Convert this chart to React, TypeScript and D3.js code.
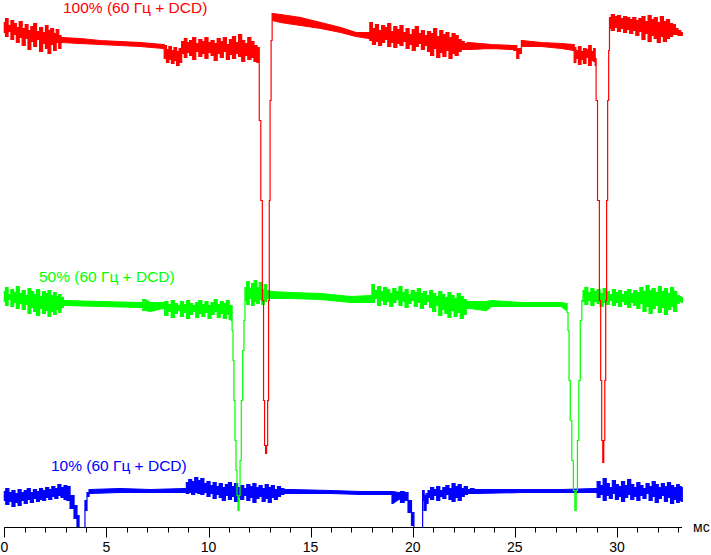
import React from 'react';
import * as d3 from 'd3';

// time in ms; levels in arbitrary units (0 = axis baseline); hi/lo = envelope of the noisy trace
const redT = [0, 0.12, 0.25, 0.4, 0.52, 0.66, 0.8, 0.95, 1.1, 1.22, 1.38, 1.5, 1.66, 1.8, 1.95, 2.08, 2.2, 2.35, 2.48, 2.6, 2.73, 2.82,
  3.71, 4.69, 5.67, 6.66, 7.78,
  7.88, 8.0, 8.12, 8.25, 8.37, 8.5, 8.62, 8.75, 8.88, 9.0, 9.15, 9.3, 9.45, 9.6, 9.75, 9.9, 10.05, 10.2, 10.35, 10.5, 10.65, 10.8, 10.95, 11.1, 11.25, 11.4, 11.55, 11.7, 11.85, 12.0, 12.15, 12.3, 12.45,
  12.52, 12.6, 12.67, 12.72, 12.77, 12.82, 12.87, 12.92, 12.96, 12.99, 13.04, 13.09,
  13.14, 13.53, 14.51, 15.5, 16.48, 17.22, 17.85,
  17.95, 18.1, 18.25, 18.4, 18.55, 18.7, 18.85, 19.0, 19.15, 19.3, 19.45, 19.6, 19.75, 19.9, 20.05, 20.2, 20.35, 20.5, 20.65, 20.8, 20.95, 21.1, 21.25, 21.4, 21.55, 21.7, 21.85, 22.0, 22.15, 22.3, 22.45, 22.6,
  22.75, 23.85, 24.83, 25.07, 25.12, 25.27, 25.37, 26.3, 27.28, 27.88,
  27.93, 28.05, 28.18, 28.3, 28.42, 28.55, 28.68, 28.8, 28.91, 28.96,
  29.0, 29.1, 29.18, 29.23, 29.28, 29.33, 29.38, 29.43, 29.47, 29.52, 29.57, 29.62,
  29.65, 29.8, 29.95, 30.1, 30.25, 30.4, 30.55, 30.7, 30.85, 31.0, 31.15, 31.3, 31.45, 31.6, 31.75, 31.9, 32.05, 32.2, 32.35, 32.5, 32.65, 32.8, 32.93, 33.05, 33.2];
const redHi = [505, 509, 502, 507, 504, 500, 506, 499, 503, 497, 501, 504, 496, 500, 495, 502, 497, 499, 494, 498, 492, 490,
  489, 487, 486, 485, 483,
  482, 478, 481, 477, 480, 476, 479, 486, 489, 485, 487, 490, 484, 488, 486, 490, 485, 487, 484, 489, 486, 490, 483, 488, 491, 485, 493, 487, 484, 490, 486, 482, 480,
  407, 327, 227, 127, 82, 74, 82, 127, 227, 327, 427, 487,
  514, 513, 510, 505, 500, 495, 495,
  505, 499, 503, 497, 502, 500, 504, 496, 501, 498, 502, 495, 499, 493, 498, 501, 494, 497, 492, 496, 494, 499, 491, 497, 493, 495, 490, 494, 492, 488, 486, 484,
  485, 483, 482, 482, 479, 479, 487, 485, 484, 483,
  480, 477, 481, 476, 479, 478, 482, 476, 479, 469,
  427, 327, 227, 147, 87, 65, 87, 147, 227, 327, 427, 477,
  510, 513, 511, 512, 509, 511, 510, 508, 510, 507, 509, 511, 506, 512, 508, 510, 505, 511, 506, 508, 504, 503, 499, 497, 495];
const redLo = [495, 491, 496, 488, 493, 485, 490, 482, 489, 478, 486, 481, 488, 476, 484, 479, 474, 483, 477, 485, 479, 485,
  484, 483, 482, 481, 479,
  469, 465, 468, 464, 467, 462, 465, 474, 470, 475, 472, 468, 476, 471, 474, 469, 475, 472, 467, 474, 470, 476, 468, 473, 469, 474, 471, 466, 472, 468, 470, 466, 465,
  407, 327, 227, 127, 82, 74, 82, 127, 227, 327, 427, 487,
  507, 505, 502, 499, 495, 491, 489,
  487, 483, 486, 482, 485, 488, 481, 485, 480, 484, 482, 486, 479, 483, 477, 481, 484, 478, 482, 476, 472, 479, 470, 475, 471, 477, 469, 474, 472, 476, 478, 478,
  478, 479, 478, 477, 469, 474, 481, 481, 479, 477,
  465, 469, 463, 468, 464, 470, 462, 467, 466, 462,
  427, 327, 227, 147, 87, 65, 87, 147, 227, 327, 427, 477,
  499, 497, 500, 496, 499, 495, 498, 494, 497, 492, 496, 488, 494, 486, 492, 489, 485, 491, 486, 489, 491, 493, 493, 492, 492];

const greenT = [0, 0.12, 0.25, 0.4, 0.52, 0.66, 0.8, 0.95, 1.1, 1.22, 1.38, 1.5, 1.66, 1.8, 1.95, 2.08, 2.2, 2.35, 2.48, 2.6, 2.73, 2.82,
  2.97, 4.69, 6.66, 6.9, 7.15, 7.78,
  7.93, 8.1, 8.25, 8.4, 8.55, 8.7, 8.85, 9.0, 9.15, 9.3, 9.45, 9.6, 9.75, 9.9, 10.05, 10.2, 10.35, 10.5, 10.65, 10.8, 10.95, 11.08, 11.13,
  11.18, 11.22, 11.27, 11.32, 11.37, 11.42, 11.47, 11.52, 11.57, 11.64, 11.71, 11.76,
  11.81, 11.93, 12.05, 12.17, 12.3, 12.42, 12.55, 12.67, 12.79, 12.9,
  13.1, 14.02, 15.5, 16.97, 17.95,
  18.05, 18.2, 18.35, 18.5, 18.65, 18.8, 18.95, 19.1, 19.25, 19.4, 19.55, 19.7, 19.85, 20.0, 20.15, 20.3, 20.45, 20.6, 20.75, 20.9, 21.05, 21.2, 21.35, 21.5, 21.65, 21.8, 21.95, 22.1, 22.25, 22.4, 22.55, 22.7,
  22.8, 23.6, 23.85, 25.32, 27.28, 27.53,
  27.58, 27.63, 27.68, 27.75, 27.83, 27.9, 27.98, 28.03, 28.1, 28.17, 28.24, 28.32,
  28.36, 28.5, 28.65, 28.8, 28.95, 29.1, 29.25, 29.4, 29.55, 29.7, 29.85, 30.0, 30.15, 30.3, 30.45, 30.6, 30.75, 30.9, 31.05, 31.2, 31.35, 31.5, 31.65, 31.8, 31.95, 32.1, 32.25, 32.4, 32.55, 32.7, 32.85, 33.0, 33.1, 33.2];
const greenHi = [236, 240, 233, 238, 235, 241, 234, 237, 232, 239, 236, 233, 238, 231, 236, 234, 237, 232, 235, 231, 233, 230,
  227, 226, 225, 228, 225, 225,
  226, 223, 227, 224, 222, 226, 223, 227, 224, 222, 225, 227, 223, 226, 222, 225, 228, 223, 226, 224, 227, 222, 222,
  197, 167, 127, 87, 57, 32, 17, 32, 67, 127, 177, 207,
  240, 246, 239, 244, 247, 240, 245, 238, 243, 237,
  236, 235, 234, 231, 232,
  243, 237, 241, 236, 240, 238, 234, 239, 236, 241, 235, 238, 233, 237, 235, 239, 234, 236, 232, 237, 234, 231, 236, 233, 230, 235, 232, 229, 234, 231, 228, 226,
  226, 226, 227, 225, 225, 224,
  215, 197, 147, 107, 67, 37, 17, 37, 87, 147, 207, 227,
  237, 240, 235, 239, 236, 238, 234, 239, 236, 233, 238, 235, 237, 233, 236, 238, 234, 237, 235, 240, 236, 242, 237, 239, 235, 241, 236, 239, 234, 240, 236, 232, 231, 230];
const greenLo = [226, 222, 228, 221, 225, 219, 224, 218, 223, 214, 220, 216, 212, 219, 214, 217, 211, 216, 213, 218, 215, 220,
  222, 221, 220, 217, 216, 219,
  212, 216, 210, 214, 217, 211, 215, 209, 213, 216, 210, 214, 211, 215, 209, 213, 216, 210, 214, 209, 213, 208, 207,
  197, 167, 127, 87, 57, 32, 17, 32, 67, 127, 177, 207,
  227, 223, 229, 222, 226, 224, 228, 223, 226, 229,
  229, 229, 228, 225, 225,
  225, 229, 222, 227, 223, 226, 221, 225, 228, 222, 226, 220, 224, 227, 221, 225, 219, 223, 226, 220, 216, 222, 212, 218, 214, 210, 217, 211, 215, 209, 213, 219,
  219, 217, 221, 221, 221, 217,
  215, 197, 147, 107, 67, 37, 17, 37, 87, 147, 207, 227,
  226, 223, 227, 222, 226, 224, 221, 225, 223, 227, 222, 225, 221, 226, 223, 220, 225, 222, 219, 224, 216, 221, 214, 219, 222, 215, 220, 213, 218, 221, 216, 224, 226, 225];

const blueT = [0, 0.15, 0.3, 0.45, 0.6, 0.75, 0.9, 1.05, 1.2, 1.35, 1.5, 1.65, 1.8, 1.95, 2.1, 2.25, 2.4, 2.55, 2.7, 2.85, 3.0, 3.12,
  3.32, 3.51, 3.61, 3.71, 3.9, 4.0, 4.1, 4.2,
  5.67, 7.15, 8.87,
  8.96, 9.1, 9.25, 9.4, 9.55, 9.7, 9.85, 10.0, 10.15, 10.3, 10.45, 10.6, 10.75, 10.9, 11.05, 11.2, 11.35, 11.5, 11.65, 11.8, 11.95, 12.1, 12.25, 12.4, 12.55, 12.7, 12.85, 13.0, 13.15, 13.3, 13.45, 13.6, 13.78,
  14.02, 15.99, 17.46, 18.94,
  19.03, 19.3, 19.5, 19.67, 19.87, 20.01, 20.11, 20.46, 20.51, 20.61, 20.7,
  20.8, 20.95, 21.1, 21.25, 21.4, 21.55, 21.7, 21.85, 22.0, 22.15, 22.3, 22.45, 22.6, 22.75, 22.9, 23.11,
  25.32, 27.28, 28.96,
  29.1, 29.25, 29.4, 29.55, 29.7, 29.85, 30.0, 30.15, 30.3, 30.45, 30.6, 30.75, 30.9, 31.05, 31.2, 31.35, 31.5, 31.65, 31.8, 31.95, 32.1, 32.25, 32.4, 32.55, 32.7, 32.85, 33.0, 33.1, 33.2];
const blueHi = [36, 39, 35, 37, 34, 38, 35, 37, 39, 35, 38, 36, 39, 37, 40, 38, 41, 39, 43, 40, 42, 41,
  32, 22, 12, 0, 0, 27, 35, 38,
  39, 38, 39,
  45, 48, 46, 50, 47, 49, 44, 46, 42, 45, 41, 44, 40, 43, 45, 41, 44, 40, 42, 39, 43, 41, 44, 40, 42, 39, 43, 40, 42, 38, 41, 39, 38,
  38, 37, 36, 36,
  36, 35, 36, 35, 27, 15, 0, 0, 37, 32, 34,
  37, 40, 38, 41, 37, 40, 42, 39, 44, 41, 43, 39, 41, 38, 39, 38,
  38, 38, 39,
  46, 42, 49, 44, 40, 47, 43, 41, 46, 42, 48, 43, 40, 45, 42, 39, 44, 41, 46, 43, 40, 44, 41, 45, 42, 40, 43, 41, 40];
const blueLo = [27, 23, 26, 21, 25, 22, 27, 24, 28, 25, 29, 26, 28, 27, 30, 28, 31, 29, 32, 30, 28, 27,
  19, 9, 0, 0, 0, 17, 31, 34,
  35, 35, 35,
  34, 35, 33, 35, 34, 33, 35, 31, 34, 29, 33, 30, 27, 32, 28, 31, 26, 30, 28, 32, 27, 30, 25, 29, 31, 26, 29, 25, 30, 28, 31, 33, 34,
  34, 34, 33, 33,
  24, 28, 25, 27, 15, 2, 0, 0, 27, 17, 24,
  30, 28, 32, 27, 31, 29, 33, 28, 26, 30, 27, 31, 33, 34, 34, 34,
  35, 35, 35,
  30, 33, 27, 32, 29, 34, 28, 31, 26, 30, 33, 28, 31, 27, 32, 29, 34, 27, 31, 25, 29, 32, 26, 30, 24, 28, 25, 27, 26];

const seriesLabels = ['10% (60 Гц + DCD)', '50% (60 Гц + DCD)', '100% (60 Гц + DCD)'];
const seriesColors = ['#0000ff', '#00ff00', '#ff0000'];
const majorTicks = [0, 5, 10, 15, 20, 25, 30];
const minorTicks = [0, 1, 2, 3, 4, 5, 6, 7, 8, 9, 10, 11, 12, 13, 14, 15, 16, 17, 18, 19, 20, 21, 22, 23, 24, 25, 26, 27, 28, 29, 30, 31, 32, 33];
const unitLabel = 'мс';

const W = 711;
const H = 555;
const axisY = 527.5;
const FONT = '"Liberation Sans", Arial, sans-serif';

type V = { t: number; lo: number; hi: number };

// Rendering helper: densely sampled stretches are drawn as steps (oscilloscope style),
// sparse stretches as straight segments.
function toVertices(t: number[], lo: number[], hi: number[]): V[] {
  const out: V[] = [];
  for (let i = 0; i < t.length; i++) {
    out.push({ t: t[i], lo: lo[i], hi: hi[i] });
    if (i < t.length - 1 && t[i + 1] - t[i] < 0.25) {
      const tm = (t[i] + t[i + 1]) / 2;
      out.push({ t: tm, lo: lo[i], hi: hi[i] });
      out.push({ t: tm, lo: lo[i + 1], hi: hi[i + 1] });
    }
  }
  return out;
}

export default function App() {
  const x = d3.scaleLinear().domain([0, 33]).range([4.3, 678.2]);
  const y = d3.scaleLinear().domain([0, 527]).range([axisY, 0.5]);

  const series = [
    { t: blueT, lo: blueLo, hi: blueHi },
    { t: greenT, lo: greenLo, hi: greenHi },
    { t: redT, lo: redLo, hi: redHi },
  ];
  const labelPos = [
    { x: 51, y: 471 },
    { x: 39, y: 282 },
    { x: 63, y: 13 },
  ];

  const area = d3
    .area<V>()
    .x((d) => x(d.t))
    .y0((d) => y(d.lo))
    .y1((d) => y(d.hi))
    .curve(d3.curveLinear);

  return (
    <svg width={W} height={H} style={{ position: 'absolute', left: 0, top: 0, background: '#fff' }}>
      <rect x={0} y={0} width={W} height={H} fill="#fff" />
      {series.map((s, k) => (
        <path
          key={k}
          d={area(toVertices(s.t, s.lo, s.hi)) || ''}
          fill={seriesColors[k]}
          stroke={seriesColors[k]}
          strokeWidth={1.2}
          strokeLinejoin="miter"
        />
      ))}
      {seriesLabels.map((lab, k) => (
        <text key={k} x={labelPos[k].x} y={labelPos[k].y} fill={seriesColors[k]} fontFamily={FONT} fontSize={15.5}>
          {lab}
        </text>
      ))}
      <line x1={x(0)} x2={682} y1={axisY} y2={axisY} stroke="#000" strokeWidth={1} />
      {minorTicks.map((t) => (
        <line
          key={'m' + t}
          x1={Math.round(x(t)) + 0.5}
          x2={Math.round(x(t)) + 0.5}
          y1={axisY}
          y2={axisY + (majorTicks.includes(t) ? 10 : 5)}
          stroke="#000"
          strokeWidth={1}
        />
      ))}
      {majorTicks.map((t) => (
        <text key={'l' + t} x={x(t)} y={551.5} textAnchor="middle" fontFamily={FONT} fontSize={14} fill="#000">
          {t}
        </text>
      ))}
      <text x={693} y={532} fontFamily={FONT} fontSize={14} fill="#000">
        {unitLabel}
      </text>
    </svg>
  );
}
